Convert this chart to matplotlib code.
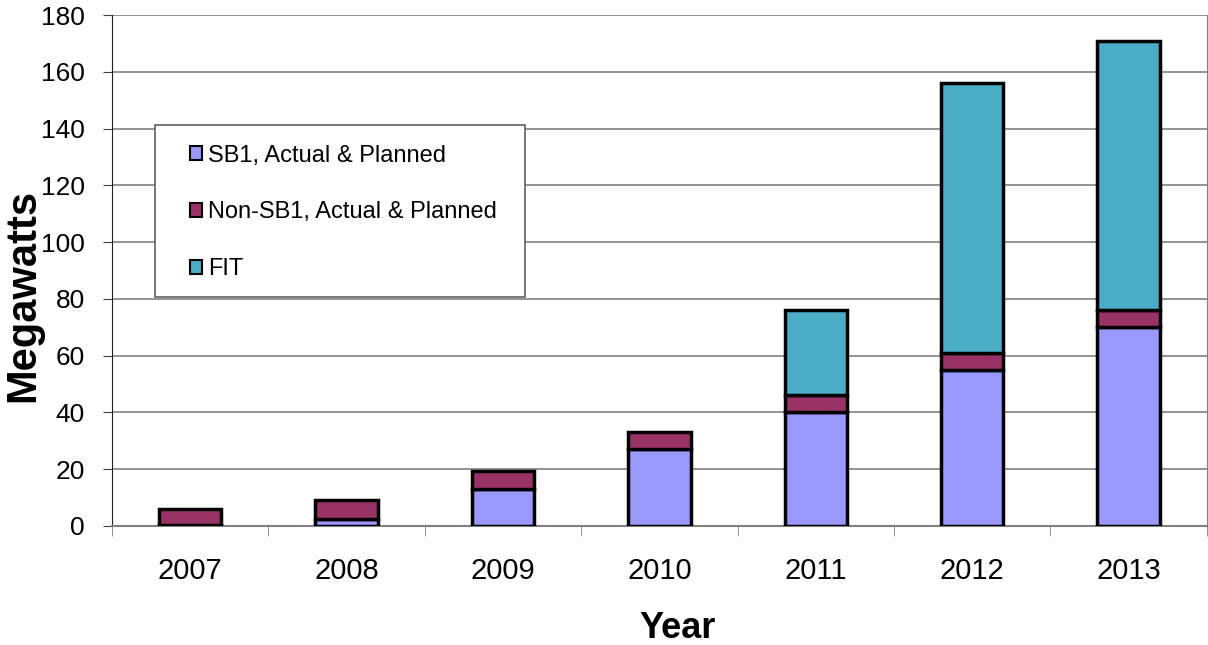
import matplotlib.pyplot as plt
from matplotlib.patches import Rectangle
import numpy as np

plt.rcParams['font.family'] = ['Liberation Sans', 'DejaVu Sans']

years = ['2007', '2008', '2009', '2010', '2011', '2012', '2013']
sb1 = [0.5, 2.5, 13, 27, 40, 55, 70]
non_sb1 = [5.5, 6.5, 6.5, 6, 6, 6, 6]
fit = [0, 0, 0, 0, 30, 95, 95]

c_sb1 = '#9999ff'
c_non = '#993366'
c_fit = '#4bacc6'

fig = plt.figure(figsize=(12.08, 6.45), dpi=100)
ax = fig.add_axes([0.0927, 0.1845, 0.9063, 0.7922])

x = np.arange(len(years))
w = 0.4
sb1 = np.array(sb1)
non_sb1 = np.array(non_sb1)
fit = np.array(fit)
ax.bar(x, sb1, w, color=c_sb1, edgecolor='black', linewidth=2.5, label='SB1, Actual & Planned', zorder=3)
ax.bar(x, non_sb1, w, bottom=sb1, color=c_non, edgecolor='black', linewidth=2.5,
       label='Non-SB1, Actual & Planned', zorder=3)
mask = fit > 0
ax.bar(x[mask], fit[mask], w, bottom=(sb1 + non_sb1)[mask], color=c_fit, edgecolor='black',
       linewidth=2.5, label='FIT', zorder=3)

ax.set_xlim(-0.5, len(years) - 0.5)
ax.set_ylim(0, 180)
ax.set_yticks(range(0, 181, 20))
ax.yaxis.grid(True, color='#808080', linewidth=1.2, zorder=0)
ax.set_axisbelow(True)

# ticks between categories
ax.set_xticks(x)
ax.set_xticklabels(years)
ax.set_xticks(np.arange(-0.5, len(years), 1), minor=True)
ax.tick_params(axis='x', which='major', length=0, labelsize=21, pad=22)
ax.tick_params(axis='x', which='minor', length=7, color='#808080', direction='out')
ax.tick_params(axis='y', labelsize=19, length=6.5, color='#404040', direction='out', pad=13)

ax.spines['top'].set_visible(False)
ax.spines['right'].set_color('#808080')
ax.spines['bottom'].set_color('#808080')
ax.spines['left'].set_color('#202020')
ax.spines['bottom'].set_linewidth(1.5)

ax.set_ylabel('Megawatts', fontsize=30, fontweight='bold')
ax.yaxis.label.set_va('center')
ax.yaxis.set_label_coords(-0.081, 0.452)
ax.set_xlabel('Year', fontsize=26, fontweight='bold')
ax.xaxis.label.set_va('center')
ax.xaxis.set_label_coords(0.517, -0.2)

# legend frame
ax.add_patch(Rectangle((0.039, 0.448), 0.338, 0.337, transform=ax.transAxes, facecolor='white',
                       edgecolor='#606060', linewidth=1.2, zorder=4))
leg = ax.legend(loc='upper left', bbox_to_anchor=(0.0712, 0.7466), frameon=False,
                fontsize=17, handlelength=0.5, handleheight=0.5, handletextpad=0.25,
                labelspacing=1.48, borderpad=0, borderaxespad=0)
leg.set_zorder(5)
for h in leg.legend_handles:
    h.set_linewidth(1.5)

fig.savefig('out.png', dpi=100)
